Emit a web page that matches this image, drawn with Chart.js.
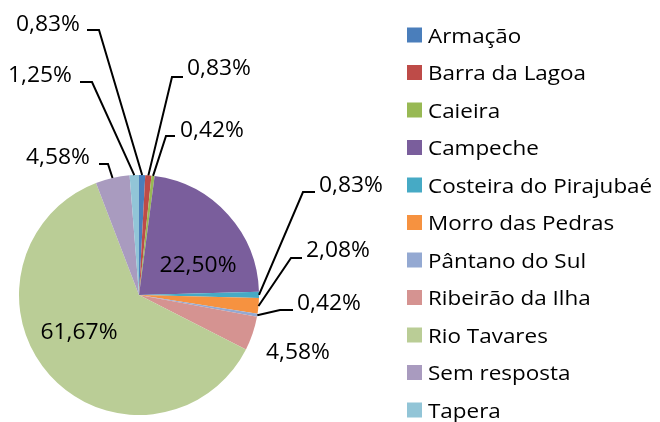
<!DOCTYPE html>
<html>
<head>
<meta charset="utf-8">
<script src="https://cdn.jsdelivr.net/npm/chart.js@4"></script>
<style>
  html, body { margin: 0; padding: 0; background: #fff; }
  #wrap { width: 660px; height: 422px; position: relative; }
</style>
</head>
<body>
<div id="wrap"><canvas id="mainChart" width="660" height="422"></canvas></div>
<script>
// data
const categories = ['Armação', 'Barra da Lagoa', 'Caieira', 'Campeche', 'Costeira do Pirajubaé',
    'Morro das Pedras', 'Pântano do Sul', 'Ribeirão da Ilha', 'Rio Tavares', 'Sem resposta', 'Tapera'];
const percents = [0.83, 0.83, 0.42, 22.50, 0.83, 2.08, 0.42, 4.58, 61.67, 4.58, 1.25];
const sliceColors = ['#4A7EBB', '#BE4B48', '#98B954', '#7A5E9C', '#46AAC5', '#F69240',
    '#94A9D2', '#D59391', '#BACD96', '#A99BBF', '#92C5D7'];

// label placement relative to the pie centre: text centre, then leader line (x1, x2, y)
const labelLayout = [
    { t: [-91, -271], l: [-52, -40, -265] },
    { t: [80, -227], l: [44, 33, -218] },
    { t: [73, -165], l: [36, 27, -159] },
    { t: [59, -30] },
    { t: [212, -110], l: [176, 164, -103] },
    { t: [199, -45], l: [163, 152, -37] },
    { t: [190, 8], l: [154, 141, 15] },
    { t: [159, 57] },
    { t: [-60, 37] },
    { t: [-81, -138], l: [-40, -31, -131] },
    { t: [-99, -220], l: [-59, -47, -213] }
];

const FONT = '"Open Sans", "Noto Sans", sans-serif';

function fmt(v) {
    return v.toFixed(2).replace('.', ',') + '%';
}

function drawStretched(ctx, text, x, y, sx, align) {
    const w = ctx.measureText(text).width * sx;
    let left = x;
    if (align === 'center') left = x - w / 2;
    ctx.save();
    ctx.translate(left, y);
    ctx.scale(sx, 1);
    ctx.textAlign = 'left';
    ctx.fillText(text, 0, 0);
    ctx.restore();
}

const pieLabels = {
    id: 'pieLabels',
    afterDatasetsDraw(chart) {
        const ctx = chart.ctx;
        const meta = chart.getDatasetMeta(0);
        const values = chart.data.datasets[0].data;
        ctx.save();
        ctx.font = '21.5px ' + FONT;
        const sx = 64 / ctx.measureText('0,83%').width;
        ctx.fillStyle = '#000';
        ctx.textBaseline = 'middle';
        meta.data.forEach((arc, i) => {
            const lay = labelLayout[i];
            const cx = arc.x, cy = arc.y;
            if (lay.l) {
                const mid = (arc.startAngle + arc.endAngle) / 2;
                const ax = cx + Math.cos(mid) * arc.outerRadius;
                const ay = cy + Math.sin(mid) * arc.outerRadius;
                ctx.beginPath();
                ctx.strokeStyle = '#000';
                ctx.lineWidth = 2;
                ctx.moveTo(cx + lay.l[0], cy + lay.l[2]);
                ctx.lineTo(cx + lay.l[1], cy + lay.l[2]);
                ctx.lineTo(ax, ay);
                ctx.stroke();
            }
            drawStretched(ctx, fmt(values[i]), cx + lay.t[0], cy + lay.t[1] + 1, sx, 'center');
        });
        ctx.restore();
    }
};

const sideLegend = {
    id: 'sideLegend',
    afterDraw(chart) {
        const ctx = chart.ctx;
        const colors = chart.data.datasets[0].backgroundColor;
        ctx.save();
        ctx.font = '20.5px ' + FONT;
        const sx = 158 / ctx.measureText('Barra da Lagoa').width;
        ctx.textBaseline = 'alphabetic';
        chart.data.labels.forEach((lab, i) => {
            const yc = 35 + i * 37.5;
            ctx.fillStyle = colors[i];
            ctx.fillRect(407, yc - 7.5, 15, 15);
            ctx.fillStyle = '#000';
            drawStretched(ctx, lab, 428, yc + 7.5, sx, 'left');
        });
        ctx.restore();
    }
};

const ctx = document.getElementById('mainChart').getContext('2d');
new Chart(ctx, {
    type: 'pie',
    data: {
        labels: categories,
        datasets: [{
            data: percents,
            backgroundColor: sliceColors,
            borderWidth: 0
        }]
    },
    options: {
        responsive: false,
        animation: false,
        layout: {
            padding: { left: 19, right: 401, top: 175, bottom: 7 }
        },
        plugins: {
            legend: { display: false },
            tooltip: { enabled: false },
            title: { display: false }
        }
    },
    plugins: [pieLabels, sideLegend]
});
</script>
</body>
</html>
